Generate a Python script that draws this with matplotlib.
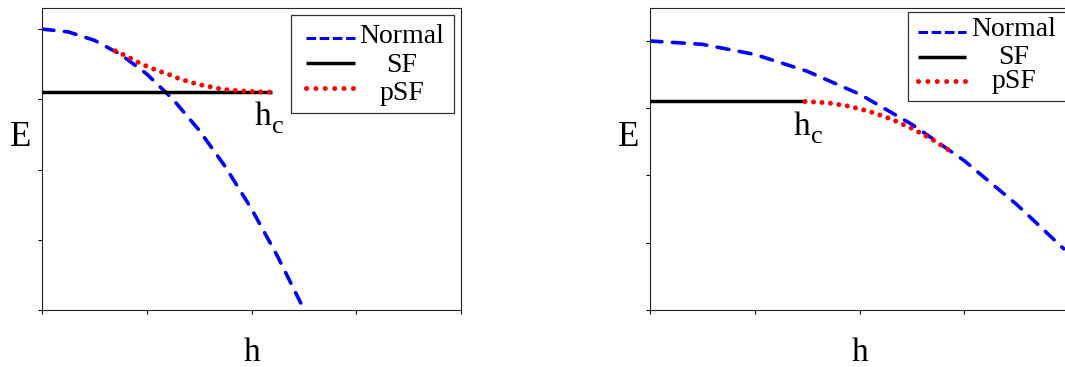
import matplotlib
matplotlib.use("Agg")
import matplotlib.pyplot as plt
from matplotlib.lines import Line2D
from matplotlib.patches import Rectangle

plt.rcParams["font.family"] = ["Liberation Serif", "DejaVu Serif"]
plt.rcParams["lines.scale_dashes"] = False

# ---- left panel: field dependence of the energies ----
h_normal_a = [0.0, 0.25, 0.5, 0.75, 1.0, 1.25, 1.5, 1.75, 2.0, 2.25, 2.47]
E_normal_a = [4.00, 3.96, 3.84, 3.64, 3.36, 3.00, 2.56, 2.04, 1.44, 0.76, 0.10]
h_sf_a = [0.0, 2.2]
E_sf_a = [3.10, 3.10]
h_psf_a = [0.70, 0.80, 0.90, 1.0, 1.1, 1.2, 1.3, 1.4, 1.5, 1.6, 1.7, 1.8, 1.9, 2.0, 2.1, 2.2]
E_psf_a = [3.69, 3.62, 3.54, 3.47, 3.41, 3.36, 3.30, 3.25, 3.21, 3.18, 3.15, 3.13, 3.12, 3.11, 3.105, 3.10]

# ---- right panel ----
h_normal_b = [0.0, 0.5, 1.0, 1.5, 2.0, 2.5, 3.0, 3.5, 3.95]
E_normal_b = [4.00, 3.95, 3.80, 3.55, 3.21, 2.76, 2.22, 1.57, 0.91]
h_sf_b = [0.0, 1.48]
E_sf_b = [3.10, 3.10]
h_psf_b = [1.48, 1.7, 1.9, 2.1, 2.3, 2.5, 2.7, 2.9]
E_psf_b = [3.10, 3.08, 3.03, 2.95, 2.84, 2.70, 2.53, 2.33]

labels = ["Normal", "SF", "pSF"]
ticks = [0, 1, 2, 3, 4]

BLUE = "#0000ff"
RED = "#ff0000"

normal_style = dict(color=BLUE, lw=2.6, dashes=(8.6, 7.6), dash_capstyle="round")
sf_style = dict(color="black", lw=2.5, solid_capstyle="butt")
psf_style = dict(color=RED, lw=3.6, linestyle=(0, (0.01, 6.1)), dash_capstyle="round")

fig = plt.figure(figsize=(10.65, 3.67), dpi=100)

W, H = 1065.0, 367.0


def make_axes(x0):
    return fig.add_axes([x0 / W, (H - 310) / H, 419 / W, 302 / H])


def style_axes(ax, ytop):
    ax.set_xlim(0, 4)
    ax.set_ylim(0, ytop)
    ax.set_xticks(ticks)
    ax.set_yticks(ticks)
    ax.set_xticklabels([])
    ax.set_yticklabels([])
    ax.tick_params(direction="out", length=3, width=0.8, color="black")
    for s in ax.spines.values():
        s.set_linewidth(0.8)
        s.set_color("#222222")
    ax.set_ylabel("E", rotation=0, fontsize=25, ha="center", va="center")
    ax.yaxis.set_label_coords(-0.050, 0.570)
    ax.set_xlabel("h", fontsize=24)
    ax.xaxis.label.set_va("baseline")
    ax.xaxis.set_label_coords(0.5, -0.168)


def draw_legend(ax, box, hx, hy, tx, ty):
    x0, y0, x1, y1 = box
    ax.add_patch(Rectangle((x0, y0), x1 - x0, y1 - y0, transform=ax.transAxes,
                           fill=False, ec="#333333", lw=0.9, clip_on=False, zorder=5))
    samples = [
        dict(color=BLUE, lw=2.2, dashes=(6.9, 2.6), dash_capstyle="butt"),
        dict(color="black", lw=2.5, solid_capstyle="butt"),
        dict(color=RED, lw=3.6, linestyle=(0, (0.01, 6.75)), dash_capstyle="round"),
    ]
    for st, y, yt, lab in zip(samples, hy, ty, labels):
        ln = Line2D(hx, [y, y], transform=ax.transAxes, clip_on=False, zorder=6, **st)
        ax.add_artist(ln)
        ax.text(tx, yt, lab, transform=ax.transAxes, ha="center", va="baseline",
                fontsize=20, zorder=6)


def draw_hc(ax, x, y):
    ax.text(x, y, "h", fontsize=24, ha="left", va="baseline")
    ax.annotate("c", xy=(x, y), xycoords="data", xytext=(17, -8),
                textcoords="offset pixels", fontsize=19, ha="left", va="baseline")


# left
ax1 = make_axes(42)
ax1.plot(h_normal_a, E_normal_a, zorder=2, **normal_style)
ax1.plot(h_sf_a, E_sf_a, zorder=3, **sf_style)
ax1.plot(h_psf_a, E_psf_a, zorder=4, **psf_style)
style_axes(ax1, 4.30)
draw_hc(ax1, 2.03, 2.64)
draw_legend(ax1, (0.594, 0.652, 0.983, 0.977),
            [0.630, 0.747], [0.901, 0.818, 0.735],
            0.859, [0.884, 0.788, 0.695])

# right
ax2 = make_axes(650)
ax2.plot(h_normal_b, E_normal_b, zorder=2, **normal_style)
ax2.plot(h_sf_b, E_sf_b, zorder=3, **sf_style)
ax2.plot(h_psf_b, E_psf_b, zorder=4, **psf_style)
style_axes(ax2, 4.49)
draw_hc(ax2, 1.375, 2.60)
draw_legend(ax2, (0.616, 0.692, 0.995, 0.988),
            [0.639, 0.754], [0.922, 0.839, 0.758],
            0.869, [0.907, 0.815, 0.735])

fig.savefig("out.png", dpi=100)
